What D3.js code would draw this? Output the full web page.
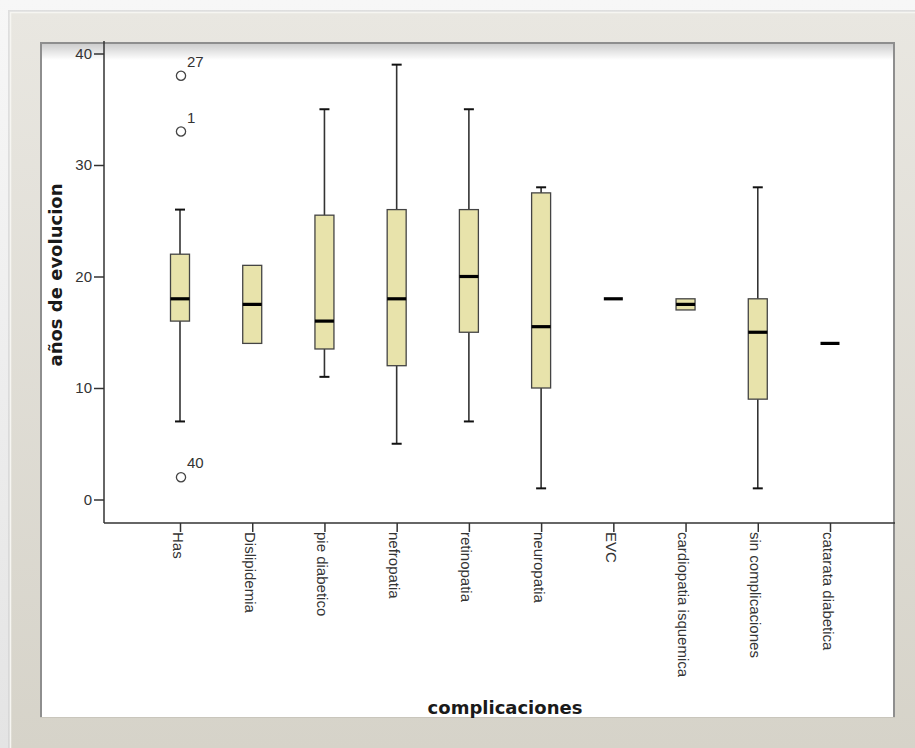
<!DOCTYPE html>
<html>
<head>
<meta charset="utf-8">
<script src="https://cdn.jsdelivr.net/npm/d3@7"></script>
<style>
  html, body { margin: 0; padding: 0; background: #ececec; }
  svg { display: block; }
</style>
</head>
<body>
<svg id="chart" width="915" height="748"></svg>
<script>
// Years since diagnosis by complication: box plot summary
const categories = ["Has", "Dislipidemia", "pie diabetico", "nefropatia", "retinopatia",
  "neuropatia", "EVC", "cardiopatia isquemica", "sin complicaciones", "catarata diabetica"];
const whiskerLow  = [7, 14, 11, 5, 7, 1, 18, 17, 1, 14];
const quartile1   = [16, 14, 13.5, 12, 15, 10, 18, 17, 9, 14];
const medians     = [18, 17.5, 16, 18, 20, 15.5, 18, 17.5, 15, 14];
const quartile3   = [22, 21, 25.5, 26, 26, 27.5, 18, 18, 18, 14];
const whiskerHigh = [26, 21, 35, 39, 35, 28, 18, 18, 28, 14];
const outlierCats   = ["Has", "Has", "Has"];
const outlierValues = [38, 33, 2];
const outlierIds    = ["27", "1", "40"];
const yTicks = [0, 10, 20, 30, 40];
const xTitle = "complicaciones";
const yTitle = "años de evolucion";

const svg = d3.select("#chart");
const W = 915, H = 748;

// ---- frame ----
const defs = svg.append("defs");
const frameGrad = defs.append("linearGradient").attr("id", "frameGrad")
  .attr("x1", 0).attr("y1", 0).attr("x2", 0).attr("y2", 1);
frameGrad.append("stop").attr("offset", "0%").attr("stop-color", "#e9e7e1");
frameGrad.append("stop").attr("offset", "100%").attr("stop-color", "#d6d3c9");
const topShade = defs.append("linearGradient").attr("id", "topShade")
  .attr("x1", 0).attr("y1", 0).attr("x2", 0).attr("y2", 1);
topShade.append("stop").attr("offset", "0%").attr("stop-color", "#000").attr("stop-opacity", 0.22);
topShade.append("stop").attr("offset", "100%").attr("stop-color", "#000").attr("stop-opacity", 0);
const pageGrad = defs.append("linearGradient").attr("id", "pageGrad")
  .attr("x1", 0).attr("y1", 0).attr("x2", 0).attr("y2", 1);
pageGrad.append("stop").attr("offset", "0%").attr("stop-color", "#f7f7f7");
pageGrad.append("stop").attr("offset", "100%").attr("stop-color", "#e4e4e4");

svg.append("rect").attr("width", W).attr("height", H).attr("fill", "url(#pageGrad)");
svg.append("rect").attr("x", 8).attr("y", 10).attr("width", W - 8).attr("height", H - 10)
  .attr("fill", "#cfcfcf").attr("opacity", 0.6);
svg.append("rect").attr("x", 10).attr("y", 12).attr("width", W - 10).attr("height", H - 12)
  .attr("fill", "url(#frameGrad)");
svg.append("path").attr("d", "M10.5,748 V12.5 H915")
  .attr("fill", "none").attr("stroke", "#f6f5f1").attr("stroke-width", 1.5);

const inner = { x: 40, y: 42, w: 855, h: 676 };
svg.append("rect").attr("x", inner.x).attr("y", inner.y).attr("width", inner.w).attr("height", inner.h)
  .attr("fill", "#ffffff");
svg.append("rect").attr("x", inner.x).attr("y", inner.y).attr("width", inner.w).attr("height", 18)
  .attr("fill", "url(#topShade)");
svg.append("path")
  .attr("d", `M${inner.x + 1},${inner.y + inner.h} V${inner.y + 1} H${inner.x + inner.w - 1} V${inner.y + inner.h}`)
  .attr("fill", "none").attr("stroke", "#8e8e8e").attr("stroke-width", 2);
svg.append("path")
  .attr("d", `M${inner.x},${inner.y + inner.h - 0.5} H${inner.x + inner.w}`)
  .attr("stroke", "#c9c6bc").attr("stroke-width", 1);

// ---- scales ----
const yAxisX = 104, xAxisY = 523;
const y = d3.scaleLinear().domain([0, 40]).range([499.5, 53.5]);
const x = d3.scalePoint().domain(categories).range([180, 830]);
const boxW = 19, capW = 10;

const ink = "#333333";
const fontSans = "'Liberation Sans', Arial, sans-serif";

// ---- axes ----
const gy = svg.append("g").attr("transform", `translate(${yAxisX},0)`)
  .call(d3.axisLeft(y).tickValues(yTicks).tickSize(10).tickSizeOuter(0).tickPadding(2));
gy.select(".domain").remove();
gy.selectAll(".tick line").attr("stroke", ink).attr("stroke-width", 1.5);
gy.selectAll(".tick text").attr("font-family", fontSans).attr("font-size", 15).attr("fill", "#333");
svg.append("line").attr("x1", yAxisX).attr("x2", yAxisX).attr("y1", 41).attr("y2", xAxisY)
  .attr("stroke", ink).attr("stroke-width", 1.5);

const gx = svg.append("g").attr("transform", `translate(0,${xAxisY})`)
  .call(d3.axisBottom(x).tickSize(9).tickSizeOuter(0));
gx.select(".domain").remove();
gx.selectAll(".tick line").attr("stroke", ink).attr("stroke-width", 1.5);
gx.selectAll(".tick text")
  .attr("font-family", fontSans).attr("font-size", 15).attr("fill", "#333")
  .attr("text-anchor", "start")
  .attr("transform", "rotate(90)")
  .attr("x", 9).attr("y", 8).attr("dy", 0);
svg.append("line").attr("x1", yAxisX).attr("x2", 895).attr("y1", xAxisY).attr("y2", xAxisY)
  .attr("stroke", ink).attr("stroke-width", 1.5);

// ---- boxes ----
const stats = categories.map((c, i) => ({
  c, lo: whiskerLow[i], q1: quartile1[i], med: medians[i], q3: quartile3[i], hi: whiskerHigh[i]
}));
const boxes = svg.append("g").selectAll("g").data(stats).join("g")
  .attr("transform", d => `translate(${x(d.c)},0)`);

// whiskers (only where they leave the box)
boxes.filter(d => d.hi > d.q3).append("line")
  .attr("x1", 0).attr("x2", 0).attr("y1", d => y(d.q3)).attr("y2", d => y(d.hi))
  .attr("stroke", ink).attr("stroke-width", 1.6);
boxes.filter(d => d.hi > d.q3).append("line")
  .attr("x1", -capW / 2).attr("x2", capW / 2).attr("y1", d => y(d.hi)).attr("y2", d => y(d.hi))
  .attr("stroke", "#111").attr("stroke-width", 2);
boxes.filter(d => d.lo < d.q1).append("line")
  .attr("x1", 0).attr("x2", 0).attr("y1", d => y(d.q1)).attr("y2", d => y(d.lo))
  .attr("stroke", ink).attr("stroke-width", 1.6);
boxes.filter(d => d.lo < d.q1).append("line")
  .attr("x1", -capW / 2).attr("x2", capW / 2).attr("y1", d => y(d.lo)).attr("y2", d => y(d.lo))
  .attr("stroke", "#111").attr("stroke-width", 2);

// interquartile box
boxes.filter(d => d.q3 > d.q1).append("rect")
  .attr("x", -boxW / 2).attr("width", boxW)
  .attr("y", d => y(d.q3)).attr("height", d => y(d.q1) - y(d.q3))
  .attr("fill", "#e8e3ab").attr("stroke", "#444").attr("stroke-width", 1.3);

// median
boxes.append("line")
  .attr("x1", -boxW / 2).attr("x2", boxW / 2)
  .attr("y1", d => y(d.med)).attr("y2", d => y(d.med))
  .attr("stroke", "#000").attr("stroke-width", 3.2);

// ---- outliers ----
const outliers = outlierValues.map((v, i) => ({ c: outlierCats[i], v, id: outlierIds[i] }));
const og = svg.append("g").selectAll("g").data(outliers).join("g")
  .attr("transform", d => `translate(${x(d.c) + 1},${y(d.v)})`);
og.append("circle").attr("r", 4.6)
  .attr("fill", "#fff").attr("stroke", "#444").attr("stroke-width", 1.3);
og.append("text").text(d => d.id)
  .attr("x", 6).attr("y", -9)
  .attr("font-family", fontSans).attr("font-size", 15).attr("fill", "#333");

// ---- titles ----
const titleFont = "'DejaVu Sans', Verdana, sans-serif";
svg.append("text").text(xTitle)
  .attr("x", 505).attr("y", 714).attr("text-anchor", "middle")
  .attr("font-family", titleFont).attr("font-weight", "bold").attr("font-size", 18)
  .attr("fill", "#1a1a1a");
svg.append("text").text(yTitle)
  .attr("transform", "translate(62,275) rotate(-90)").attr("text-anchor", "middle")
  .attr("font-family", titleFont).attr("font-weight", "bold").attr("font-size", 18)
  .attr("fill", "#1a1a1a");
</script>
</body>
</html>
